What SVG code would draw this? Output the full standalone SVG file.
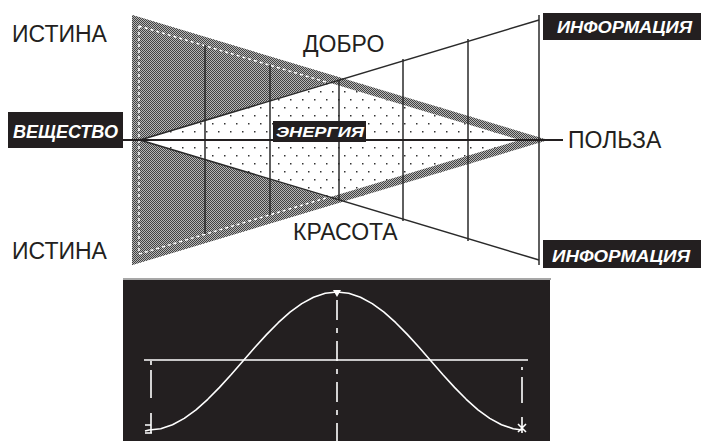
<svg xmlns="http://www.w3.org/2000/svg" width="701" height="441" viewBox="0 0 701 441">
<style>
.lbl{font-family:"Liberation Sans",Arial,sans-serif;font-size:23px;fill:#231f20}
.tag{font-family:"Liberation Sans",Arial,sans-serif;font-weight:bold;font-style:italic;fill:#fff}
.box{fill:#231f20}
.ln{stroke:#2a2a2a;stroke-width:1.5;fill:none}
.dash{stroke:#fff;stroke-width:1.5;stroke-dasharray:3 3;fill:none}
.wl{stroke:#fff;stroke-width:1.6;fill:none}
</style>
<defs>
<pattern id="gray" width="2" height="2" patternUnits="userSpaceOnUse">
<rect width="2" height="2" fill="#b6b6b6"/>
<rect width="1" height="1" fill="#424242"/>
<rect x="1" y="1" width="1" height="1" fill="#424242"/>
</pattern>
<pattern id="dots" width="12" height="16" patternUnits="userSpaceOnUse">
<rect width="12" height="16" fill="#fff"/>
<rect x="2" y="3" width="1.5" height="1.5" fill="#333"/>
<rect x="8" y="11" width="1.5" height="1.5" fill="#333"/>
</pattern>
</defs>
<rect width="701" height="441" fill="#fff"/>

<g id="triangle">
<polygon points="132,15 548,140 132,265" fill="url(#gray)"/>
<polygon id="energy-field" points="140,140 343,78 548,140 343,202" fill="url(#dots)"/>
<path d="M132,15 L548,140 L132,265 Z M140,25.8 L140,254.2 L520,140 Z" fill="url(#gray)" fill-rule="evenodd"/>
<path class="dash" d="M139,26 L331,83.5 M139,26 L139,254 L331,196.5"/>
</g>

<g id="connectors">
<line class="ln" x1="140" y1="140" x2="539" y2="20"/>
<line class="ln" x1="140" y1="140" x2="539" y2="260"/>
<line class="ln" x1="205" y1="45" x2="205" y2="234"/>
<line class="ln" x1="270" y1="65" x2="270" y2="215"/>
<line class="ln" x1="339" y1="80" x2="339" y2="200"/>
<line class="ln" x1="403" y1="59" x2="403" y2="221"/>
<line class="ln" x1="468" y1="39" x2="468" y2="241"/>
<line class="ln" x1="539" y1="15" x2="539" y2="265"/>
<line x1="123" y1="140" x2="563" y2="140" stroke="#231f20" stroke-width="2"/>
</g>

<g id="istina-top"><text class="lbl" x="12" y="42">ИСТИНА</text></g>
<g id="istina-bottom"><text class="lbl" x="12" y="259">ИСТИНА</text></g>
<g id="dobro"><text class="lbl" x="303" y="52">ДОБРО</text></g>
<g id="krasota"><text class="lbl" x="293" y="240">КРАСОТА</text></g>
<g id="polza"><text class="lbl" x="568" y="148">ПОЛЬЗА</text></g>

<g id="veshchestvo">
<rect class="box" x="8" y="112" width="115" height="36"/>
<text class="tag" x="13" y="138" font-size="18" textLength="105" lengthAdjust="spacingAndGlyphs">ВЕЩЕСТВО</text>
</g>
<g id="energiya">
<rect class="box" x="273" y="121" width="93" height="21"/>
<text class="tag" x="276" y="137" font-size="15.5" textLength="88" lengthAdjust="spacingAndGlyphs">ЭНЕРГИЯ</text>
</g>
<g id="informatsiya-top">
<rect class="box" x="543" y="13" width="158" height="27"/>
<text class="tag" x="557" y="33" font-size="16" textLength="135" lengthAdjust="spacingAndGlyphs">ИНФОРМАЦИЯ</text>
</g>
<g id="informatsiya-bottom">
<rect class="box" x="543" y="240" width="158" height="28"/>
<text class="tag" x="552" y="262" font-size="16" textLength="138" lengthAdjust="spacingAndGlyphs">ИНФОРМАЦИЯ</text>
</g>

<g id="chart">
<line x1="123" y1="279" x2="551" y2="279" stroke="#8a8a8a" stroke-width="1.5"/>
<rect x="123" y="280" width="427" height="161" fill="#231f20"/>
<line class="wl" x1="144" y1="360" x2="528" y2="360"/>
<polyline class="wl" stroke-linejoin="round" points="145,431 149,430 160.75,428.7 172.5,424.7 184.25,418.4 196,409.8 207.75,399.3 219.5,387.4 231.25,374.5 243,361 254.75,347.5 266.5,334.6 278.25,322.7 290,312.2 301.75,303.6 313.5,297.3 325.25,293.3 337,292 348.75,293.3 360.5,297.3 372.25,303.6 384,312.2 395.75,322.7 407.5,334.6 419.25,347.5 431,361 442.75,374.5 454.5,387.4 466.25,399.3 478,409.8 489.75,418.4 501.5,424.7 513.25,428.7 522,430"/>
<polygon points="333,290 341,290 337,297" fill="#fff"/>
<line class="wl" x1="337" y1="300" x2="337" y2="441" stroke-dasharray="20 8 5 8"/>
<path class="wl" d="M151,361 V365 M151,370 V398 M151,413 V433 M145,425 H151 M145,433 H152"/>
<path class="wl" d="M522,367 V370 M522,377 V403 M522,417 V433 M518,424 L526,432 M526,424 L518,432"/>
</g>
</svg>
